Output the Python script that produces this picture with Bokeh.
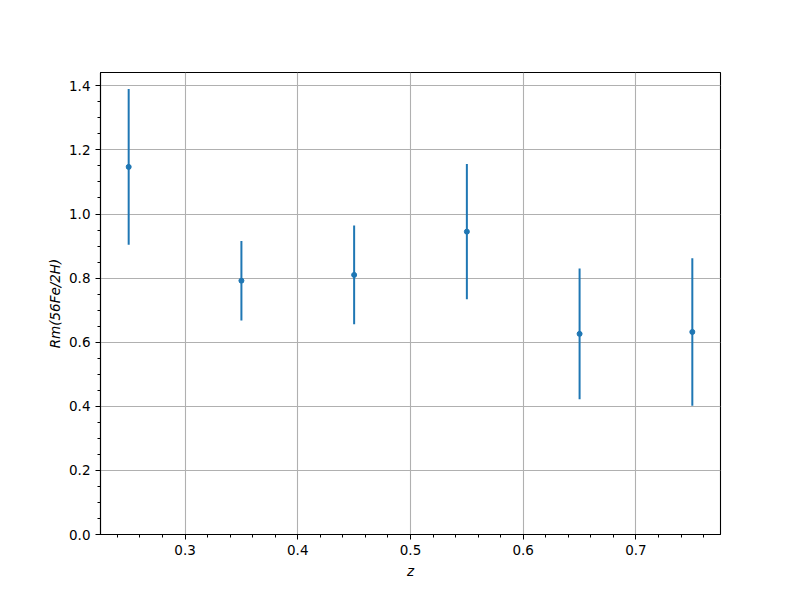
from bokeh.plotting import figure
from bokeh.models import FixedTicker, Range1d, PrintfTickFormatter
from bokeh.embed import file_html
from bokeh.resources import INLINE

z = [0.25, 0.35, 0.45, 0.55, 0.65, 0.75]
rm = [1.147, 0.792, 0.810, 0.945, 0.626, 0.632]
err = [0.243, 0.124, 0.154, 0.211, 0.204, 0.230]

x_ticks = [0.3, 0.4, 0.5, 0.6, 0.7]
y_ticks = [0.0, 0.2, 0.4, 0.6, 0.8, 1.0, 1.2, 1.4]

color = "#1f77b4"

p = figure(width=784, height=584, output_backend="svg", toolbar_location=None,
           x_range=Range1d(0.225, 0.775), y_range=Range1d(0.0, 1.4415),
           min_border_left=100, min_border_right=64, min_border_top=72, min_border_bottom=50,
           frame_width=620, frame_height=462)
p.background_fill_color = "white"
p.border_fill_color = "white"
p.outline_line_color = "black"
p.outline_line_width = 1.1

lo = [v - e for v, e in zip(rm, err)]
hi = [v + e for v, e in zip(rm, err)]
p.segment(x0=z, y0=lo, x1=z, y1=hi, line_color=color, line_width=2)
p.scatter(x=z, y=rm, size=5, fill_color=color, line_color=color)

xminor = [round(0.22 + 0.02 * i, 2) for i in range(29)]
yminor = [round(0.05 * i, 2) for i in range(30)]
p.xaxis.ticker = FixedTicker(ticks=x_ticks, minor_ticks=xminor)
p.yaxis.ticker = FixedTicker(ticks=y_ticks, minor_ticks=yminor)
p.xaxis.formatter = PrintfTickFormatter(format="%.1f")
p.yaxis.formatter = PrintfTickFormatter(format="%.1f")

for ax in (p.xaxis[0], p.yaxis[0]):
    ax.axis_line_color = "black"
    ax.axis_line_width = 1.1
    ax.major_tick_in = 0
    ax.major_tick_out = 5
    ax.minor_tick_in = 0
    ax.minor_tick_out = 3
    ax.major_tick_line_color = "black"
    ax.minor_tick_line_color = "black"
    ax.major_label_text_font = "DejaVu Sans"
    ax.major_label_text_font_size = "13.5px"
    ax.major_label_text_color = "black"
    ax.axis_label_text_font = "DejaVu Sans"
    ax.axis_label_text_font_size = "13.5px"
    ax.axis_label_text_font_style = "italic"
    ax.axis_label_text_color = "black"
    ax.major_label_standoff = 5

p.xaxis.axis_label = "z"
p.yaxis.axis_label = "Rm(56Fe/2H)"
p.xaxis.axis_label_standoff = 5
p.yaxis.axis_label_standoff = 3

p.xgrid.ticker = FixedTicker(ticks=x_ticks)
p.ygrid.ticker = FixedTicker(ticks=y_ticks)
p.grid.grid_line_color = "#b0b0b0"
p.grid.grid_line_width = 1.1

open("out.html", "w").write(file_html(p, INLINE))
